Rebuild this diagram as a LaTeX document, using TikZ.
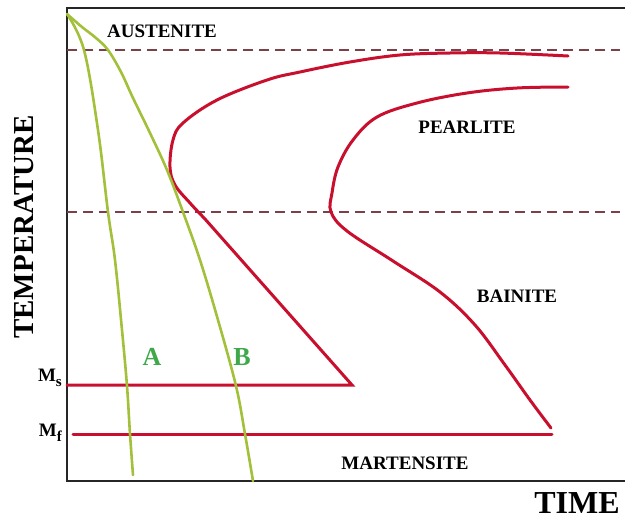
\documentclass[tikz,border=0pt]{standalone}
\usepackage{fontspec}
\setmainfont{Liberation Serif}
\usepackage{xcolor}
\usepackage{tikz}
\usetikzlibrary{calc}
\definecolor{redx}{HTML}{C8102E}
\definecolor{limex}{HTML}{A2C03A}
\definecolor{greenx}{HTML}{3FA84A}
\definecolor{dashx}{HTML}{7E4048}
\tikzset{
  frame/.style={line width=2.4pt,black!85},
  crv/.style={line width=3pt,redx,line cap=round},
  cool/.style={line width=2.6pt,limex,line cap=round},
  iso/.style={line width=1.8pt,dashx,dash pattern=on 10pt off 6pt},
  lbl/.style={font=\fontsize{19}{19}\selectfont\bfseries,inner sep=0pt},
  big/.style={font=\fontsize{32}{32}\selectfont\bfseries,inner sep=0pt}
}

\begin{document}
\begin{tikzpicture}[x=1pt,y=-1pt]
\useasboundingbox (0,0) rectangle (625,520);
\draw[frame] (625,8) -- (67,8) -- (67,481) -- (625,481);
\draw[iso] (67,50) -- (620,50);
\draw[iso] (67,212) -- (620,212);
\draw[crv] plot[smooth,tension=0.6] coordinates {(568,56) (500,53) (450,53) (400,55) (350,62) (300,72) (267,80) (217,100) (183,123) (173,140) (170,167) (175,185) (190,203) (205,219)} -- (352,385) -- (67,385);
\draw[crv] plot[smooth,tension=0.6] coordinates {(568,87) (517,88) (467,93) (417,103) (377,117) (353,140) (338,167) (332,193) (331,212) (347,231) (393,261) (440,292) (475,325) (505,365) (530,400) (551,428)};
\draw[crv] (73,434) -- (552,434);
\draw[cool] plot[smooth,tension=0.6] coordinates {(67,14) (84,50) (98,130) (108,212) (115,260) (122,330) (127,386) (130,434) (133,475)};
\draw[cool] plot[smooth,tension=0.6] coordinates {(67,14) (82,27) (96,38) (108,50) (121,72) (133,98) (150,133) (167,170) (183,212) (200,260) (218,320) (236,386) (245,434) (253,481)};
\node[lbl] (aus) at (162,31) {AUSTENITE};
\node[lbl] (pea) at (467,127) {PEARLITE};
\node[lbl] (bai) at (517,296) {BAINITE};
\node[lbl] (mar) at (405,463) {MARTENSITE};
\node[lbl,font=\fontsize{26}{26}\selectfont\bfseries,greenx] (la) at (152,357) {A};
\node[lbl,font=\fontsize{26}{26}\selectfont\bfseries,greenx] (lb) at (242,357) {B};
\node[lbl,anchor=east] (ms) at (62,378) {M\raisebox{-0.55ex}{\fontsize{15}{15}\selectfont s}};
\node[lbl,anchor=east] (mf) at (62,433) {M\raisebox{-0.55ex}{\fontsize{15}{15}\selectfont f}};
\node[big] (time) at (577,503) {TIME};
\node[big,font=\fontsize{29}{29}\selectfont\bfseries,rotate=90] (temp) at (24,227) {TEMPERATURE};
\end{tikzpicture}
\end{document}
